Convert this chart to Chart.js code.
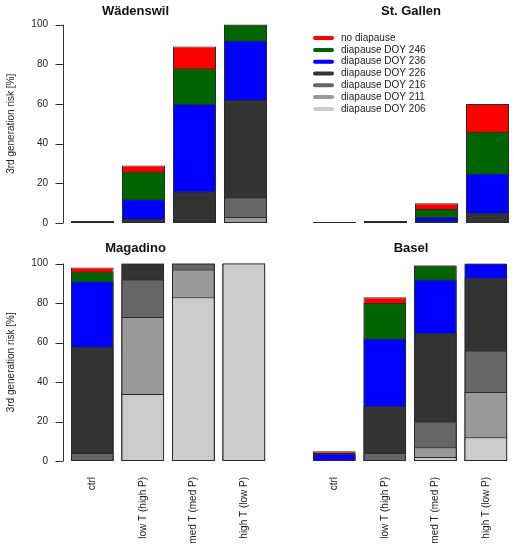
<!DOCTYPE html>
<html>
<head>
<meta charset="utf-8">
<script src="https://cdn.jsdelivr.net/npm/chart.js@4.4.1/dist/chart.umd.min.js"></script>
<style>
  body { margin: 0; background: #fff; }
  #wrap { position: relative; width: 514px; height: 544px; }
  canvas { position: absolute; }
</style>
</head>
<body>
<div id="wrap">
  <canvas id="c1" width="272" height="235" style="left:0;top:0"></canvas>
  <canvas id="c2" width="242" height="235" style="left:272px;top:0"></canvas>
  <canvas id="c3" width="272" height="309" style="left:0;top:235px"></canvas>
  <canvas id="c4" width="242" height="309" style="left:272px;top:235px"></canvas>
</div>
<script>
// treatments on the x axis
const categories = ['ctrl', 'low T (high P)', 'med T (med P)', 'high T (low P)'];

// series, top of the stack first (values are cumulative risk in %)
const seriesLabels = ['no diapause', 'diapause DOY 246', 'diapause DOY 236', 'diapause DOY 226',
                      'diapause DOY 216', 'diapause DOY 211', 'diapause DOY 206'];
const seriesColors = ['#ff0000', '#006400', '#0000ff', '#333333', '#666666', '#999999', '#cccccc'];
const yTicks = [0, 20, 40, 60, 80, 100];

// one row per series (same order as seriesLabels), one column per category
const wadenswil = [
  [1, 29, 89, 100],
  [1, 26, 78, 100],
  [0, 12, 60, 92],
  [0, 2, 16, 62],
  [0, 0, 1, 13],
  [0, 0, 0, 3],
  [0, 0, 0, 0]
];
const stGallen = [
  [0.5, 1, 10, 60],
  [0.5, 1, 7, 46],
  [0.5, 1, 3, 25],
  [0.5, 0, 1, 5],
  [0.5, 0, 0, 0],
  [0, 0, 0, 0],
  [0, 0, 0, 0]
];
const magadino = [
  [98, 100, 100, 100],
  [96, 100, 100, 100],
  [91, 100, 100, 100],
  [58, 100, 100, 100],
  [4, 92, 100, 100],
  [0, 73, 97, 100],
  [0, 34, 83, 100]
];
const basel = [
  [5, 83, 99, 100],
  [4, 80, 99, 100],
  [3.7, 62, 92, 100],
  [0, 28, 65, 93],
  [0, 4, 20, 56],
  [0, 0, 7, 35],
  [0, 0, 2, 12]
];

const FONT = "'Liberation Sans', Arial, sans-serif";

// draws the R style y axis, a little left of the plot area
const rAxis = {
  id: 'rAxis',
  afterDraw(chart, args, opts) {
    if (!opts.show) return;
    const ctx = chart.ctx;
    const y = chart.scales.y;
    const x0 = Math.round(chart.chartArea.left - 4) + 0.5;
    ctx.save();
    ctx.strokeStyle = '#333';
    ctx.lineWidth = 1;
    ctx.beginPath();
    ctx.moveTo(x0, y.getPixelForValue(0));
    ctx.lineTo(x0, y.getPixelForValue(100));
    yTicks.forEach(v => {
      const py = Math.round(y.getPixelForValue(v)) + 0.5;
      ctx.moveTo(x0 - 8, py);
      ctx.lineTo(x0, py);
    });
    ctx.stroke();
    ctx.restore();
  }
};

// legend drawn inside the plot area (St. Gallen panel)
const innerLegend = {
  id: 'innerLegend',
  afterDraw(chart, args, opts) {
    if (!opts.show) return;
    const ctx = chart.ctx;
    const a = chart.chartArea;
    ctx.save();
    ctx.font = '10px ' + FONT;
    ctx.textBaseline = 'middle';
    ctx.lineCap = 'round';
    ctx.lineWidth = 4;
    seriesLabels.forEach((lab, i) => {
      const yy = a.top + 13.5 + i * 11.8;
      ctx.strokeStyle = seriesColors[i];
      ctx.beginPath();
      ctx.moveTo(a.left + 6, yy);
      ctx.lineTo(a.left + 23, yy);
      ctx.stroke();
      ctx.fillStyle = '#222';
      ctx.fillText(lab, a.left + 32, yy);
    });
    ctx.restore();
  }
};

function makePanel(id, title, rows, isLeft, isBottom, withLegend) {
  // smallest cumulative value first so it is drawn on top of the taller ones
  const datasets = seriesLabels.map((lab, i) => ({
    label: lab,
    data: rows[i],
    backgroundColor: seriesColors[i],
    borderColor: '#2a2a2a',
    borderWidth: 1,
    borderSkipped: false,
    grouped: false,
    barPercentage: 43 / 51,
    categoryPercentage: 1
  })).reverse();

  const titlePad = isBottom ? { top: 6, bottom: 7 } : { top: 4, bottom: 5 };

  new Chart(document.getElementById(id), {
    type: 'bar',
    data: { labels: categories, datasets: datasets },
    plugins: [rAxis, innerLegend],
    options: {
      responsive: false,
      animation: false,
      devicePixelRatio: 1,
      layout: {
        padding: { left: isLeft ? 0 : 37, right: 1, top: 0, bottom: isBottom ? 0 : 12 }
      },
      plugins: {
        legend: { display: false },
        tooltip: { enabled: false },
        title: {
          display: true,
          text: title,
          color: '#111',
          font: { family: FONT, size: 13, weight: 'bold' },
          padding: titlePad
        },
        rAxis: { show: isLeft },
        innerLegend: { show: withLegend }
      },
      scales: {
        x: {
          display: isBottom,
          stacked: false,
          grid: { display: false, drawTicks: false },
          border: { display: false },
          ticks: {
            minRotation: 90,
            maxRotation: 90,
            padding: 16,
            color: '#222',
            font: { family: FONT, size: 10 }
          },
          afterFit: s => { s.height = isBottom ? 83 : 0; }
        },
        y: {
          display: isLeft,
          min: 0,
          max: 100,
          stacked: false,
          grid: { display: false, drawTicks: true, tickLength: 19 },
          border: { display: false },
          ticks: {
            stepSize: 20,
            padding: 0,
            color: '#222',
            font: { family: FONT, size: 10 }
          },
          title: {
            display: true,
            text: '3rd generation risk [%]',
            color: '#222',
            font: { family: FONT, size: 10 },
            padding: { top: 5, bottom: 0 }
          },
          afterFit: s => { s.width = isLeft ? 67 : 0; }
        }
      }
    }
  });
}

makePanel('c1', 'Wädenswil', wadenswil, true, false, false);
makePanel('c2', 'St. Gallen', stGallen, false, false, true);
makePanel('c3', 'Magadino', magadino, true, true, false);
makePanel('c4', 'Basel', basel, false, true, false);
</script>
</body>
</html>
